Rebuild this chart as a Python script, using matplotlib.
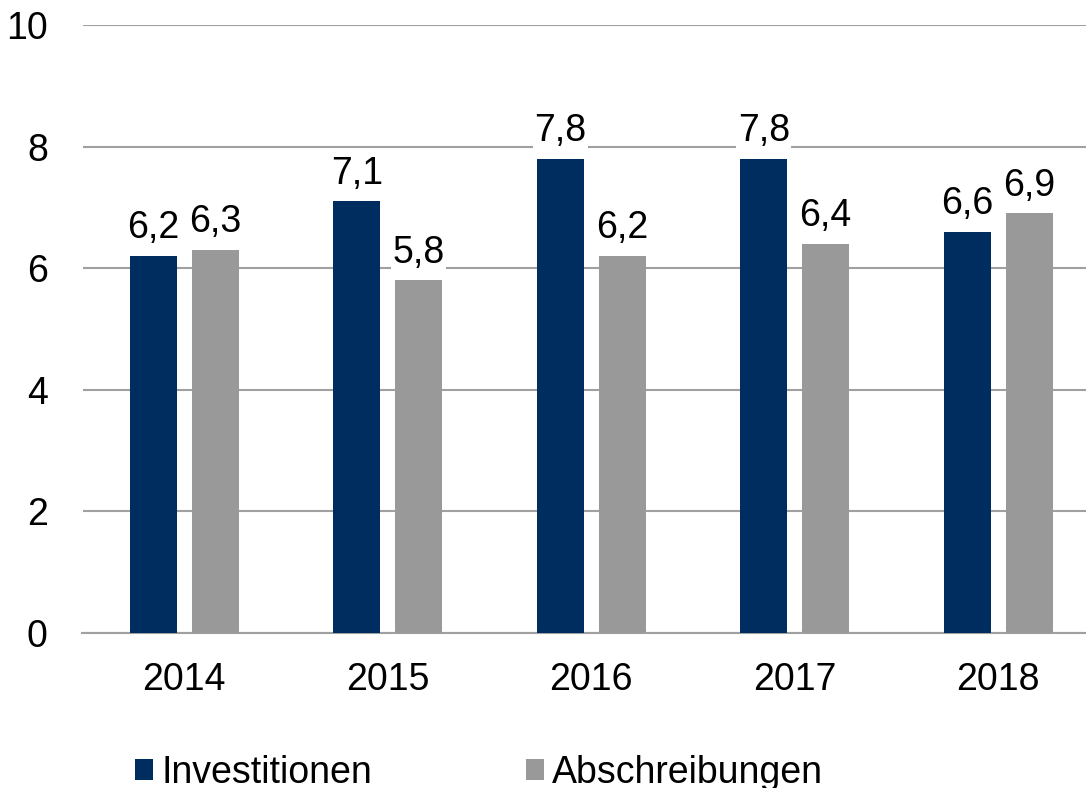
import matplotlib
matplotlib.use("Agg")
import matplotlib.pyplot as plt
import numpy as np
from matplotlib.patches import Patch

plt.rcParams['font.family'] = ['Liberation Sans', 'DejaVu Sans']

years = ["2014", "2015", "2016", "2017", "2018"]
investitionen = [6.2, 7.1, 7.8, 7.8, 6.6]
abschreibungen = [6.3, 5.8, 6.2, 6.4, 6.9]
series_names = ["Investitionen", "Abschreibungen"]
colors = ["#002D5F", "#999999"]

W, H = 1086, 788
FS = 27
fig = plt.figure(figsize=(W / 100, H / 100), dpi=100)
left = 82.5
ax = fig.add_axes([left / W, (H - 633) / H, (W - left) / W, (633 - 25) / H])

x = np.arange(len(years))
bw = 0.231
off = 0.152
b1 = ax.bar(x - off, investitionen, bw, color=colors[0], zorder=3)
b2 = ax.bar(x + off, abschreibungen, bw, color=colors[1], zorder=3)

fmt = lambda v: f"{v:.1f}".replace(".", ",")
for bars in (b1, b2):
    ax.bar_label(bars, labels=[fmt(b.get_height()) for b in bars],
                 padding=7, fontsize=FS, color="black",
                 bbox=dict(facecolor="white", edgecolor="none", pad=1))

ax.set_ylim(0, 10)
ax.set_xlim(-0.5, -0.5 + (W - left) / 203.5)
ax.set_yticks([0, 2, 4, 6, 8, 10])
ax.set_yticklabels(["0", "2", "4", "6", "8", "10"])
ax.set_xticks(x)
ax.set_xticklabels(years)
ax.tick_params(axis="both", length=0, labelsize=FS)
ax.tick_params(axis="y", pad=25)
ax.tick_params(axis="x", pad=21)
ax.yaxis.grid(True, color="#a0a0a0", linewidth=1.5, zorder=0)
ax.set_axisbelow(True)
for s in ("top", "right", "left"):
    ax.spines[s].set_visible(False)
ax.spines["bottom"].set_color("#a0a0a0")
ax.spines["bottom"].set_linewidth(1.5)

handles = [Patch(facecolor=c, edgecolor="none") for c in colors]
fig.legend(handles, series_names, loc="lower left",
           bbox_to_anchor=(135 / W, -3 / H), ncol=2, frameon=False,
           fontsize=FS, handlelength=0.48, handleheight=0.48,
           handletextpad=0.22, columnspacing=4.1, borderpad=0,
           borderaxespad=0)

fig.savefig("out.png", dpi=100)
